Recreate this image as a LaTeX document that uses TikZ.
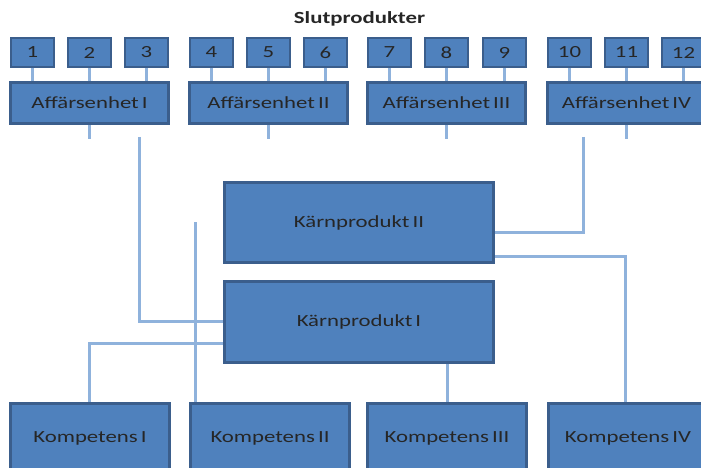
\documentclass[tikz,border=0pt]{standalone}
\usepackage{fontspec}
\setmainfont{Carlito}[FakeStretch=1.34, WordSpace=0.6]
\begin{document}
\begin{tikzpicture}[x=1pt,y=-1pt,
  box/.style={draw=boxedge, line width=2pt, fill=boxfill, anchor=north west,
    inner sep=0pt, text=black!85, font=\fontsize{17}{17}\selectfont},
  link/.style={draw=linkblue, line width=3pt}]
\definecolor{boxfill}{HTML}{4F81BD}
\definecolor{boxedge}{HTML}{3B5E8C}
\definecolor{linkblue}{HTML}{8FB2DC}
\useasboundingbox (0,0) rectangle (701,468);
\clip (0,0) rectangle (701,468);

% title
\node[text=black!85] (title) at (359.5,19) {\fontsize{17}{17}\selectfont\bfseries Slutprodukter};

% end products
\foreach \n/\x in {1/10,2/67,3/124,4/189,5/246,6/303,7/367,8/424,9/482,10/547,11/604,12/661}
  \node[box, minimum width=43pt, minimum height=29pt] (p\n) at (\x,37) {\n};

% business units
\foreach \n/\x/\t in {1/10/I,2/189/II,3/367/III,4/547/IV}
  \node[box, minimum width=157pt, minimum height=40pt] (a\n) at (\x,82) {Affärsenhet \t};

% core products
\node[box, minimum width=268pt, minimum height=79pt] (k2) at (224,182) {Kärnprodukt II};
\node[box, minimum width=268pt, minimum height=80pt] (k1) at (224,281) {Kärnprodukt I};

% competences
\foreach \n/\x/\t in {1/10/I,2/190/II,3/367/III,4/548/IV}
  \node[box, minimum width=158pt, minimum height=68pt] (c\n) at (\x,403) {\raisebox{2pt}{Kompetens \t}};

% free ends of the connectors
\foreach \n in {1,2,3,4}
  \coordinate (s\n) at ([yshift=-15pt]a\n.south);
\coordinate (u1) at (139,137);
\coordinate (u4) at (583,137);
\coordinate (f2) at (195,222);

% product to business unit stubs
\foreach \n/\a in {1/1,2/1,3/1,4/2,5/2,6/2,7/3,8/3,9/3,10/4,11/4,12/4}
  \draw[link] (p\n.south) -- (p\n.south |- a\a.north);
\foreach \n in {1,2,3,4}
  \draw[link] (a\n.south) -- (s\n);

% connectors between units, core products and competences
\draw[link] (u1) |- (k1.west |- 0,321);
\draw[link] (u4) |- (k2.east |- 0,232);
\draw[link] (k2.east |- 0,256) -| (c4.north -| 625,0);
\draw[link] (k1.west |- 0,343) -| (c1.north -| 89,0);
\draw[link] (k1.south -| 447,0) -- (c3.north -| 447,0);
\draw[link] (f2) -- (c2.north -| 195,0);

% redraw box outlines above connector ends
\foreach \n in {k1,k2,c1,c2,c3,c4,a1,a2,a3,a4}
  \draw[boxedge, line width=2pt] (\n.north west) rectangle (\n.south east);
\end{tikzpicture}
\end{document}
